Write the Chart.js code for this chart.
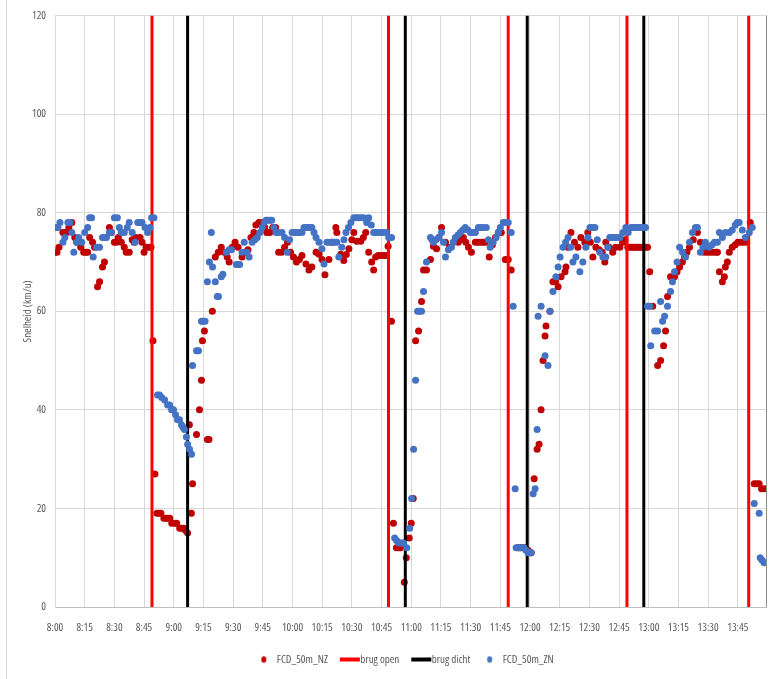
<!DOCTYPE html>
<html><head><meta charset="utf-8">
<script src="https://cdn.jsdelivr.net/npm/chart.js@4.4.1/dist/chart.umd.min.js"></script>
<style>
html,body{margin:0;padding:0;background:#fff;}
#wrap{position:relative;width:770px;height:679px;overflow:hidden;}
#frame{position:absolute;left:6px;top:0;width:1px;height:679px;background:#d9d9d9;}
canvas{position:absolute;left:0;top:0;}
</style></head><body>
<div id="wrap"><div id="frame"></div><canvas id="c" width="770" height="679"></canvas></div>
<script>
// ---- data (x = minutes after 8:00, y = speed km/u) ----
const startHour = 8;
const xTickStepMinutes = 15;
const yTickValues = [0, 20, 40, 60, 80, 100, 120];
const yAxisTitle = 'Snelheid (km/u)';
const seriesNames = ['FCD_50m_NZ', 'brug open', 'brug dicht', 'FCD_50m_ZN'];

const nzPoints = [
 [0,72],[1,72],[2,73],[4,76],[5,76],[6,76],[7,77],[8.5,78],[10,75],[11,74],[12,74],[13,73],[14.5,72],[15.5,72],[16.5,72],
 [17.5,75],[19,74],[20,73],[21.5,65],[22.5,66],[24,69],[25,70],[27.5,77],[28.5,76],[30,74],[31,74],[32,75],[33.5,74],
 [35,73],[36,72],[37.5,72],[39,74.5],[40,74],[41,75],[43,75],[44,74],[45,72],[46,73],[47,73],[48.5,73],
 [49.5,54],[50.5,27],[51.5,19],[52.5,19],[53.5,19],[55,18],[56,18],[57,18],[58,18],[59,17],[60.5,17],[61.5,17],
 [63,16],[64,16],[65,16],[66,15.5],[67,15],
 [67.9,37],[68.9,19],[69.5,25],[71.5,35],[73,40],[74,46],[74.5,54],[75.5,56],[77,34],[77.8,34],
 [79.5,60],[81,71],[82.5,72],[84,73],[85.5,72],[87,71],[88,70],[89.5,73],[91,74],[92.5,73],[94.5,71],[96,72],
 [97.5,72.5],[99,75],[100.5,76],[101.5,77.5],[103,78],[104.5,78],[106,77],[107,76],[108.5,76],[110,77],[111.5,77],
 [113,72],[114.5,72],[116,73],[117.5,74],[119,72],[120.5,71],[122,70],[123.5,70.5],[124.8,71.3],[126.8,69.6],
 [128.3,68.4],[129.8,69],[131.9,72],[133.4,71.6],[134.9,70.5],[136.4,67.4],[138.4,70.5],[139.9,74],[141.9,77],
 [142.4,76],[144.4,71.6],[145.9,70.3],[147.2,71.5],[148.5,72.7],[150,74.5],[151,76],[152.5,74.2],[154.5,74.2],
 [155.8,75],[157,76],[158.5,72],[160,70],[161,68.4],[162,71],[163.3,71.3],[164.6,71.3],[166,71.3],[167,71.3],[168.3,73.2],
 [170,58],[171,17],[172.5,12],[173.5,12],[174.5,12],[176.5,5],[177.5,10],[179,14],[180,17],[181,22],
 [182.2,54],[183.7,56],[185.2,62],[186.2,68.4],[187.7,68.4],[189.7,70.5],[191.2,73.2],[192.8,72.7],[194,75],
 [195.3,77],[197.3,74],[199.3,73],[201.3,74],[203.8,74],[205,74.5],[206.3,75],[207.6,74],[208.9,73],[210.4,72],
 [212.4,74],[213.7,74],[214.9,74],[216.2,74],[217.4,74],[219.4,71],[221,73.5],[222.5,75],[224,76],[225.5,76],
 [227.5,70.5],[229,70.5],[230.5,68.4],
 [234,12],[235,12],[236,12],[237.5,12],[239,11.5],[240.6,11],[242.1,26],[243.6,32],[244.6,33],[245.6,40],[246.6,50],
 [247.6,55],[248.1,57],[250.1,60],[251.6,66],[252.9,66],[254.2,65],[255.7,67],[257.7,68],[258.2,69],[259.2,73],
 [260.7,76],[262.5,74],[264.2,73],[265.7,75],[267.7,74],[269.2,76],[270.5,74],[271.8,71],[273.3,73],[275,72.5],
 [276.5,72],[277.8,70],[278.3,74],[280,73],[281.8,72],[283.3,73],[285.4,73],[286.8,74],[288,74.5],
 [289.4,73],[290.4,73],[291.4,73],[292.4,73],[293.4,73],[294.4,73],[295.4,73],[296.4,73],[297.4,73],[298.4,73],[299.4,73],
 [300.5,68],[302,61],[304.5,49],[306,50],[307.5,53],[308.5,56],[309.5,63],[311,67],[313,67],[314.3,68],[315.6,69],
 [317,70],[318.1,71],[319.3,72],[320.6,73],[322.5,74.5],[324.6,76],[326.1,74],[328,72],[329.5,72],[331,72],[332.5,72],
 [334,72],[334.7,72],[335.7,68],[337.2,66],[338.2,67],[338.7,69],[339.7,70],[340.7,72],[342.2,73],[343.7,73.5],
 [345,74],[346.3,74],[347.6,74],[349,74],[351.3,78],
 [353.3,25],[354.5,25],[355.8,25],[357,24],[358.5,24]
];

const znPoints = [
 [0,77],[1,77],[1.5,77],[2.5,78],[4,74],[5,75],[6.5,78],[7.5,78],[8.5,76],[9.5,72],[11,74],[12,75],[13.5,74],[15,76],
 [16.5,77],[17.5,79],[18.5,79],[19.3,71],[21,73],[22.5,73],[24,75],[25.2,75],[26,75],[27.5,76],[28.5,76],[30,79],
 [31.5,79],[32.5,77],[33.5,76],[35,76],[36.5,77],[37.5,78],[39,76],[40.5,74],[41.8,78],[43,78],[44,78],[45.5,77],
 [46.8,76],[48,77],[48.8,79],[50,79],
 [51.8,43],[52.8,43],[53.9,42.5],[55.4,42],[56.9,41],[57.9,41],[58.9,40],[59.9,40],[60.9,39],[61.9,38],[62.9,38],
 [63.9,37],[64.6,36.5],[65.4,36],[66.4,34.5],[67,33],[68,32],[69,31],
 [69.5,49],[71.5,52],[72.5,52],[74,58],[75,58],[75.8,58],[77,66],[78,70],[79,76],[79.6,69],[81,66],[82,63],[82.6,63],
 [84,67],[84.8,67.5],[86.6,72],[88,72.5],[89.2,72.5],[91.6,69.5],[92.5,69.5],[93.3,69.5],[94.5,72],[95.6,74],[97,72],
 [98.1,71],[99.6,74],[101,74.5],[102.2,75],[103.5,76],[104.7,77],[105.7,78],[106.7,78.5],[107.7,78.5],[108.7,78.5],
 [109.5,78.5],[110.6,77],[111.7,76],[113,76],[114.7,76],[116,75],[117.3,72],[118.5,74.5],[119.8,76],[121,76],
 [122.3,76],[123.5,76],[124.8,76],[125.8,77],[126.8,77],[127.8,77],[128.8,77],[129.8,77],[130.9,76],[131.9,75],
 [133.4,74],[134.9,72.7],[135.9,69.6],[137.4,74],[138.6,74],[139.9,74],[141.2,74],[142.4,74],[143.4,71],[144.9,73],
 [146,74.5],[147,76],[148.3,77],[149.5,78],[151,79],[152.2,79],[153.5,79],[154.8,79],[156,79],[157.5,78],[158.5,79],
 [159.8,77.5],[161,76],[162.3,76],[163.6,76],[164.9,76],[166.1,76],[167.4,76],[168.6,75],[170.1,75],
 [171.6,14],[172.6,13.5],[173.6,13],[174.6,13],[175.4,13],[176.1,13],[177.7,12],[179.2,16],[180.2,22],[181.2,32],
 [182.2,46],[183.2,60],[184,60],[185.2,60],[186.2,64],[187.7,70],[189.7,75],[190.5,74.5],[191.2,74],[192.5,74.5],
 [193.8,75],[195.3,76],[196.3,74],[197.3,71],[198.8,72.5],[200.3,73],[201.3,74],[202.3,75],[203.6,75.5],[204.8,76],
 [206,76.5],[207.3,77],[208.6,76.5],[209.9,76],[211.2,76],[212.4,76],[213.9,77],[215.2,77],[216.4,77],[217.9,77],
 [219,74.5],[219.9,73],[221.4,74],[222.9,75],[224,76],[225,77],[226.5,78],[227.7,78],[229,78],[230.5,76],[231.5,61],
 [232.5,24],[233,12],[234,12],[235,12],[236,12],[237,12],[238,11.5],[239,11],[240,11],[240.6,11],
 [241.6,23],[242.6,24],[243.6,36],[244.1,59],[245.6,61],[247.6,51],[249.1,49],[250.1,60],[251.6,64],[253.1,67],
 [254.2,69],[255.2,71],[256.7,73],[258,74],[259.2,75],[260.5,73],[261.7,70],[263.2,71],[265.2,68],[266.7,70],
 [268.2,73],[269.3,75],[270.3,77],[271.5,77],[272.8,77],[274,74.5],[275.3,72],[276.8,71],[278.3,71],[279.3,73],
 [280.3,75],[281.5,75],[282.8,75],[284,75],[285.4,75],[286.9,76],[288.4,77],[289.6,76],[291,77],[292,77],[293,77],
 [294,77],[295,77],[296,77],[297,77],[298.4,77],
 [299.4,61],[300.5,61],[301,53],[303,56],[304.5,56],[306,62],[307,58],[308,59],[309.5,61],[311,64],[312,66],[313,68],
 [314.3,70],[315.6,73],[317.1,72],[318.6,71],[320.6,74],[322.1,76],[323.6,77],[324.6,77],[326.1,72],[327.4,73],
 [328.6,74],[330.6,73],[332,73.5],[333.2,74],[334.7,74],[335.7,76],[337.2,75],[338.7,76],[340.7,76],[342.2,76.5],
 [343.7,77.5],[344.7,78],[345.7,78],[347.3,76.5],[348.8,75],[350.8,76],[352.3,77],
 [353.3,21],[355.8,19],[356.3,10],[357.3,9.5],[358.3,9]
];

const brugOpenMinutes = [49, 168.5, 229, 289, 350.5];
const brugDichtMinutes = [67, 177, 238.6, 297.5];

// ---- helpers ----
function pickFont(){
  const g = document.createElement('canvas').getContext('2d');
  const s = 'FCD_50m_NZ brug dicht 10:45';
  const w = f => { g.font = f; return g.measureText(s).width; };
  const cands = [
    ['normal', "'Liberation Sans Narrow'"],
    ['normal', "'Arial Narrow'"],
    ['normal', "'Roboto Condensed'"],
    ['normal', "'Open Sans Condensed'"],
    ['normal condensed', "'Noto Sans'"],
    ['normal condensed', "'Open Sans'"],
    ['normal semi-condensed', "'Noto Sans'"],
    ['normal', "'DejaVu Sans Condensed'"]
  ];
  let best = {weight: 'normal', family: "'Liberation Sans', Arial, sans-serif", width: w("11px 'Liberation Sans'")};
  for (const [wt, fam] of cands) {
    const a = w(wt + ' 11px ' + fam + ', monospace');
    const b = w(wt + ' 11px ' + fam + ', serif');
    if (Math.abs(a - b) > 0.01) continue;           // not installed
    if (a < best.width - 0.5) best = {weight: wt, family: fam + ", 'Liberation Sans', sans-serif", width: a};
  }
  return best;
}
const FONTSEL = pickFont();
const mkFont = size => ({ size: size, family: FONTSEL.family, weight: FONTSEL.weight });

const TXT = '#595959';
const RED_DOT = '#C00000', BLUE_DOT = '#4472C4', RED_LINE = '#FF0000', BLACK_LINE = '#000000';
const yMin = yTickValues[0], yMax = yTickValues[yTickValues.length - 1];

function toXY(pairs){ return pairs.map(p => ({x: p[0], y: p[1]})); }
function verticalLines(mins){
  const out = [];
  mins.forEach(m => { out.push({x:m, y:yMin}, {x:m, y:yMax}, {x:m, y:null}); });
  return out;
}
function fmtTime(v){
  const total = startHour * 60 + v;
  const h = Math.floor(total / 60), mm = Math.round(total % 60);
  return h + ':' + String(mm).padStart(2, '0');
}
function legendIcon(kind, color){
  const c = document.createElement('canvas');
  c.width = 40; c.height = 10;
  const g = c.getContext('2d');
  g.fillStyle = color;
  if (kind === 'dot') { g.beginPath(); g.ellipse(22.5, 5, 2.5, 3.2, 0, 0, Math.PI * 2); g.fill(); }
  else { g.fillRect(15, 3, 20, 4); }
  return c;
}
const icons = [legendIcon('dot', RED_DOT), legendIcon('line', RED_LINE), legendIcon('line', BLACK_LINE), legendIcon('dot', BLUE_DOT)];

const frameLines = {
  id: 'frameLines',
  afterDraw(chart){
    const {ctx, chartArea: a} = chart;
    ctx.save(); ctx.strokeStyle = '#8c8c8c'; ctx.lineWidth = 1;
    ctx.beginPath(); ctx.moveTo(Math.round(a.right) - 0.5, a.top); ctx.lineTo(Math.round(a.right) - 0.5, a.bottom); ctx.stroke();
    ctx.restore();
  }
};
const legendShift = {
  id: 'legendShift',
  afterLayout(chart){
    const lg = chart.legend; if (!lg) return;
    lg.left += 18; lg.right += 18;
  }
};

new Chart(document.getElementById('c'), {
  type: 'scatter',
  data: {
    datasets: [
      { label: seriesNames[0], data: toXY(nzPoints), backgroundColor: RED_DOT, borderColor: RED_DOT,
        pointRadius: 3.5, pointHoverRadius: 3.5, borderWidth: 0, order: 3 },
      { label: seriesNames[1], data: verticalLines(brugOpenMinutes), showLine: true, spanGaps: false,
        borderColor: RED_LINE, backgroundColor: RED_LINE, borderWidth: 3, pointRadius: 0, order: 2 },
      { label: seriesNames[2], data: verticalLines(brugDichtMinutes), showLine: true, spanGaps: false,
        borderColor: BLACK_LINE, backgroundColor: BLACK_LINE, borderWidth: 3, pointRadius: 0, order: 1 },
      { label: seriesNames[3], data: toXY(znPoints), backgroundColor: BLUE_DOT, borderColor: BLUE_DOT,
        pointRadius: 3.5, pointHoverRadius: 3.5, borderWidth: 0, order: 0 }
    ]
  },
  options: {
    responsive: false, animation: false,
    layout: { padding: { left: 0, right: 1, top: 10, bottom: 4 } },
    plugins: {
      tooltip: { enabled: false },
      legend: {
        position: 'bottom',
        labels: {
          usePointStyle: true, pointStyleWidth: 20, padding: 7,
          color: TXT, font: mkFont(11),
          sort: (a, b) => a.datasetIndex - b.datasetIndex,
          generateLabels(chart){
            const items = Chart.defaults.plugins.legend.labels.generateLabels(chart);
            items.forEach(it => { it.pointStyle = icons[it.datasetIndex]; });
            return items;
          }
        }
      }
    },
    scales: {
      x: {
        type: 'linear', min: 0, max: 359.5,
        afterFit(s){ s.height = 40; },
        grid: { color: '#d9d9d9', drawTicks: false },
        border: { color: '#bfbfbf' },
        ticks: { stepSize: xTickStepMinutes, includeBounds: false, autoSkip: false, maxRotation: 0,
                 padding: 14, color: TXT, font: mkFont(11), callback: v => fmtTime(v) }
      },
      y: {
        min: yMin, max: yMax,
        afterFit(s){ s.width = 55; },
        afterBuildTicks(s){ s.ticks = yTickValues.map(v => ({value: v})); },
        grid: { color: '#d9d9d9', drawTicks: false },
        border: { color: '#d9d9d9' },
        ticks: { padding: 9, color: TXT, font: mkFont(11) },
        title: { display: true, text: yAxisTitle, color: TXT, font: mkFont(11),
                 padding: { top: 21, bottom: 0 } }
      }
    }
  },
  plugins: [frameLines, legendShift]
});
</script>
</body></html>
